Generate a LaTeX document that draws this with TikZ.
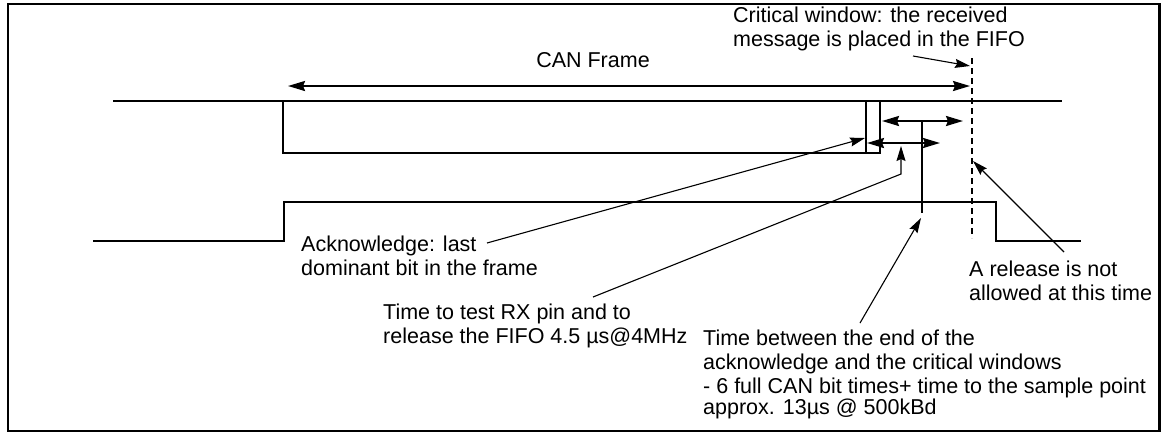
\documentclass[tikz,border=0pt]{standalone}
\usepackage{fontspec}
\setmainfont{Liberation Sans}
\usetikzlibrary{arrows.meta}
\begin{document}
\begin{tikzpicture}[x=1pt,y=-1pt,
  sig/.style={line width=2.2pt},
  bighead/.tip={Stealth[length=17pt,width=10pt,inset=2pt]},
  lead/.style={line width=1.1pt,-{Stealth[length=15pt,width=9pt,inset=2pt]}},
  dbl/.style={line width=2.2pt,bighead-bighead},
  lbl/.style={inner sep=0pt,anchor=base west,align=left,font=\fontsize{21.5}{23.5}\selectfont}
]
\useasboundingbox (0,0) rectangle (1161,432);
\draw[line width=2.2pt] (8,4) rectangle (1159.5,431);

% RX signal (top)
\coordinate (tA) at (113,101);
\coordinate (tB) at (1062,101);
\draw[sig] (tA) -- (tB);
\coordinate (bx1) at (283,100);
\coordinate (bx2) at (283,153);
\coordinate (bx3) at (880,153);
\coordinate (bx4) at (880,101);
\draw[sig] (bx1) -- (bx2) -- (bx3) -- (bx4);
\coordinate (ak1) at (866,101);
\coordinate (ak2) at (866,153);
\draw[sig] (ak1) -- (ak2);

% lower signal
\coordinate (l1) at (93,241);
\coordinate (l2) at (284,241);
\coordinate (l3) at (284,202);
\coordinate (l4) at (996,202);
\coordinate (l5) at (996,241);
\coordinate (l6) at (1081,241);
\draw[sig] (l1) -- (l2) -- (l3) -- (l4) -- (l5) -- (l6);

% CAN frame arrow
\coordinate (cf1) at (288,86);
\coordinate (cf2) at (970,86);
\draw[dbl] (cf1) -- (cf2);
\node[lbl,anchor=base] (canframe) at (593,67) {CAN Frame};

% critical window dashed line
\coordinate (d1) at (972,58);
\coordinate (d2) at (972,238);
\draw[line width=2pt,dash pattern=on 6pt off 4pt] (d1) -- (d2);

% time arrows
\coordinate (u1) at (882,121);
\coordinate (u2) at (963,121);
\coordinate (w1) at (867,143);
\coordinate (w2) at (940,143);
\coordinate (s1) at (922,121);
\coordinate (s2) at (922,213);
\draw[dbl] (u1) -- (u2);
\draw[dbl] (w1) -- (w2);
\draw[sig] (s1) -- (s2);

% labels (anchored at the baseline of their last line)
\node[lbl] (crit) at (733,46) {Critical window: the received\\message is placed in the FIFO};
\node[lbl] (ack) at (301,275) {Acknowledge: last\\dominant bit in the frame};
\node[lbl] (test) at (383,343) {Time to test RX pin and to\\release the FIFO 4.5 µs@4MHz};
\node[lbl] (betw) at (703,414) {Time between the end of the\\[1pt]acknowledge and the critical windows\\[0pt]- 6 full CAN bit times+ time to the sample point\\[-2.5pt]approx. 13µs @ 500kBd};
\node[lbl] (rel) at (969,300) {A release is not\\allowed at this time};

% leaders
\coordinate (c1) at (913,56);
\coordinate (c2) at (970,66);
\draw[lead] (c1) -- (c2);
\coordinate (a1) at (487,243);
\coordinate (a2) at (865,138);
\draw[lead] (a1) -- (a2);
\coordinate (t1) at (593,297);
\coordinate (t2) at (901,174);
\coordinate (t3) at (901,146);
\draw[lead] (t1) -- (t2) -- (t3);
\coordinate (b1) at (860,323);
\coordinate (b2) at (921,218);
\draw[lead] (b1) -- (b2);
\coordinate (r1) at (1064,252);
\coordinate (r2) at (973,161);
\draw[lead] (r1) -- (r2);
\end{tikzpicture}
\end{document}
